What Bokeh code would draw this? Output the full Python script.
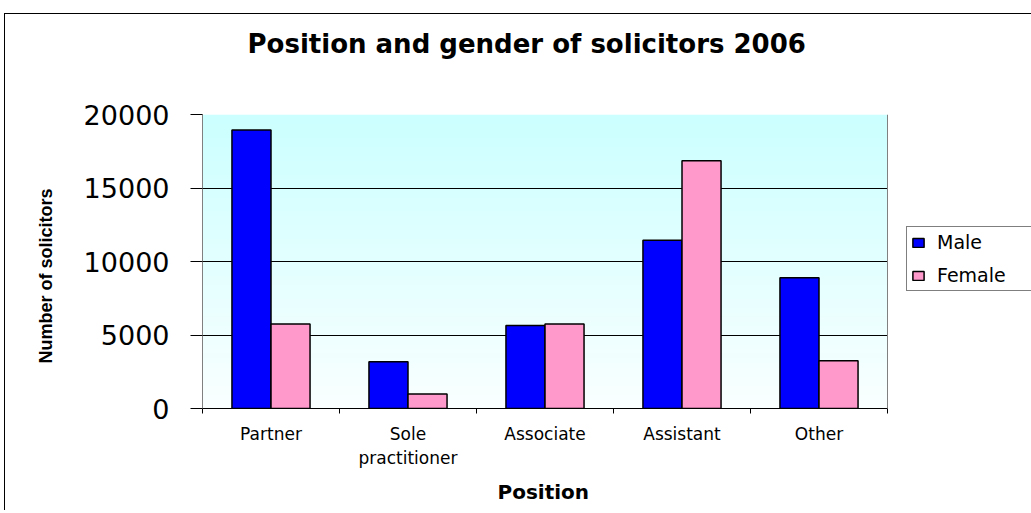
import numpy as np
from bokeh.plotting import figure
from bokeh.models import (FixedTicker, Range1d, Legend, LegendItem,
                          ColumnDataSource, Title, Span)
from bokeh.transform import dodge
from bokeh.embed import file_html
from bokeh.resources import INLINE

# ---- data ----
positions = ["Partner", "Sole\npractitioner", "Associate", "Assistant", "Other"]
male = [18950, 3180, 5650, 11450, 8900]
female = [5750, 980, 5750, 16850, 3250]
y_ticks = [0, 5000, 10000, 15000, 20000]
y_max = 20000

idx = list(range(len(positions)))
src = ColumnDataSource(data=dict(x=idx, male=male, female=female))

# plot area holds the bars (685 px) plus room on the right for the legend
bars_px = 685
frame_w = 829
x_lo, x_hi = -0.5, len(positions) - 0.5
x_view_hi = x_lo + (x_hi - x_lo) * frame_w / bars_px

p = figure(frame_width=frame_w, frame_height=294, output_backend="svg", toolbar_location=None,
           x_range=Range1d(x_lo, x_view_hi), y_range=Range1d(0, y_max),
           min_border_left=197, min_border_right=0,
           min_border_top=100, min_border_bottom=90,
           title="Position and gender of solicitors 2006")
p.styles = {"position": "relative", "top": "13px", "left": "4px",
            "border-left": "1px solid black", "border-top": "1px solid black"}

# title
p.title.align = "left"
p.title.text_font = "DejaVu Sans"
p.title.text_font_style = "bold"
p.title.text_font_size = "26px"
p.title.text_color = "black"
p.title.standoff = 0
p.title.offset = 45
# empty spacer between title and plot area
p.add_layout(Title(text=" ", text_font_size="12px", standoff=40), "above")

# gradient background of the bar area
N = 64
img = np.empty((N, 2), dtype=np.uint32)
view = img.view(dtype=np.uint8).reshape((N, 2, 4))
top_c = np.array([204, 255, 255])
bot_c = np.array([250, 255, 255])
for i in range(N):
    t = i / (N - 1)
    c = bot_c * (1 - t) + top_c * t
    view[i, :, 0] = int(c[0]); view[i, :, 1] = int(c[1]); view[i, :, 2] = int(c[2]); view[i, :, 3] = 255
bg = p.image_rgba(image=[img], x=x_lo, y=0, dw=x_hi - x_lo, dh=y_max)
bg.level = "image"

p.background_fill_color = "white"
p.border_fill_color = "white"
p.outline_line_color = None

# right edge of the bar area
p.add_layout(Span(location=x_hi, dimension="height", line_color="#808080", line_width=1))

# bars
bw = 0.285
r_m = p.vbar(x=dodge("x", -bw / 2, range=p.x_range), top="male", width=bw, source=src,
             fill_color="#0000FF", line_color="black", line_width=1.5)
r_f = p.vbar(x=dodge("x", bw / 2, range=p.x_range), top="female", width=bw, source=src,
             fill_color="#FF99CC", line_color="black", line_width=1.5)

# grid (horizontal lines only over the bar area)
p.xgrid.visible = False
try:
    p.ygrid.cross_bounds = (x_lo, x_hi)
    p.ygrid.ticker = FixedTicker(ticks=y_ticks)
    p.ygrid.grid_line_color = "black"
    p.ygrid.grid_line_width = 1
except AttributeError:
    p.ygrid.visible = False
    gl = p.segment(x0=[x_lo] * len(y_ticks), x1=[x_hi] * len(y_ticks), y0=y_ticks, y1=y_ticks,
                   line_color="black", line_width=1)
    gl.level = "underlay"

# y axis
ya = p.yaxis[0]
ya.ticker = FixedTicker(ticks=y_ticks)
ya.axis_line_color = "#808080"
ya.major_tick_line_color = "black"
ya.major_tick_out = 12
ya.major_tick_in = 0
ya.minor_tick_line_color = None
ya.major_label_text_font = "DejaVu Sans"
ya.major_label_text_font_size = "27px"
ya.major_label_text_color = "black"
ya.major_label_standoff = 21
# y axis title (placed as a side title so it can sit slightly below centre)
p.add_layout(Title(text="Number of solicitors", align="left", offset=45, standoff=50,
                   text_font="Liberation Sans", text_font_style="bold",
                   text_font_size="18px", text_color="black"), "left")

# x axis
xa = p.xaxis[0]
xa.bounds = (x_lo, x_hi)
xa.ticker = FixedTicker(ticks=idx, minor_ticks=[i - 0.5 for i in range(len(positions) + 1)])
xa.major_label_overrides = {i: lab for i, lab in zip(idx, positions)}
xa.axis_line_color = "black"
xa.major_tick_out = 0
xa.major_tick_in = 0
xa.major_tick_line_color = None
xa.minor_tick_line_color = "black"
xa.minor_tick_out = 5
xa.minor_tick_in = 0
xa.major_label_text_font = "DejaVu Sans"
xa.major_label_text_font_size = "17px"
xa.major_label_text_color = "black"
xa.major_label_standoff = 10
# x axis title, centred under the bar area
p.add_layout(Title(text="Position", align="left", offset=295, standoff=14,
                   text_font="DejaVu Sans", text_font_style="bold",
                   text_font_size="20px", text_color="black"), "below")

# legend (inside the plot area, to the right of the bars)
legend = Legend(items=[LegendItem(label="Male", renderers=[r_m]),
                       LegendItem(label="Female", renderers=[r_f])],
                location=(704, 117))
legend.border_line_color = "black"
legend.border_line_width = 1
legend.background_fill_color = "white"
legend.background_fill_alpha = 1
legend.label_text_font = "DejaVu Sans"
legend.label_text_font_size = "19px"
legend.label_text_color = "black"
legend.glyph_width = 14
legend.glyph_height = 11
legend.label_standoff = 12
legend.label_width = 110
legend.padding = 4
legend.spacing = 11
legend.margin = 0
p.add_layout(legend)

open("out.html", "w").write(file_html(p, INLINE))
